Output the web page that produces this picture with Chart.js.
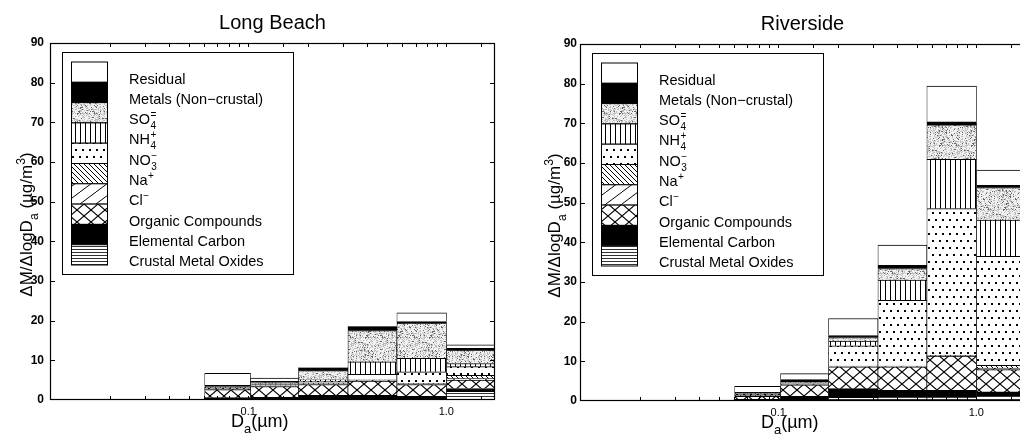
<!DOCTYPE html>
<html>
<head>
<meta charset="utf-8">
<script src="https://cdn.jsdelivr.net/npm/chart.js@4.4.1/dist/chart.umd.min.js"></script>
<style>
  html, body { margin: 0; padding: 0; background: #fff; overflow: hidden; }
  #wrap { position: relative; width: 1020px; height: 434px; overflow: hidden; }
  #lb { position: absolute; left: 0; top: 0; }
  #rv { position: absolute; left: 510px; top: 0; }
</style>
</head>
<body>
<div id="wrap">
  <canvas id="lb" width="510" height="434"></canvas>
  <canvas id="rv" width="530" height="434"></canvas>
</div>
<script>
// impactor stage edges, aerodynamic diameter in µm
const binEdges = [0.062, 0.1, 0.18, 0.32, 0.56, 1.0, 1.8];

// species, stacked bottom to top
const speciesNames = ['Crustal Metal Oxides', 'Elemental Carbon', 'Organic Compounds', 'Cl', 'Na',
                      'NO', 'NH', 'SO', 'Metals (Non\u2212crustal)', 'Residual'];
const speciesSub = ['', '', '', '', '', '3', '4', '4', '', ''];
const speciesSup = ['', '', '', '\u2212', '+', '\u2212', '+', '=', '', ''];

// Long Beach, ΔM/ΔlogDa in µg/m³ per stage (smallest stage first)
const lbCrustal  = [0.1, 0.1, 0.1, 0.1, 0.1, 2.2];
const lbEC       = [0.5, 0.6, 1.1, 1.1, 0.8, 0.7];
const lbOrganic  = [2.0, 2.7, 2.7, 3.6, 3.0, 2.1];
const lbCl       = [0.1, 0.1, 0.2, 0.2, 0.2, 0.4];
const lbNa       = [0.1, 0.1, 0.2, 0.1, 0.1, 0.8];
const lbNO3      = [0.2, 0.3, 0.5, 1.4, 2.9, 2.2];
const lbNH4      = [0.1, 0.2, 0.3, 3.1, 3.4, 0.8];
const lbSO4      = [0.3, 0.4, 2.3, 7.9, 8.9, 3.4];
const lbMetals   = [0.3, 0.2, 0.6, 1.0, 0.4, 0.4];
const lbResidual = [3.0, 0.8, 0.2, 0.1, 2.2, 0.9];

// Riverside
const rvCrustal  = [0.1, 0.1, 0.9, 1.0, 1.0, 1.4];
const rvEC       = [0.3, 1.1, 2.2, 1.7, 1.7, 0.9];
const rvOrganic  = [0.8, 2.9, 5.5, 5.9, 8.6, 5.6];
const rvCl       = [0.1, 0.1, 0.1, 0.1, 0.1, 0.4];
const rvNa       = [0.1, 0.1, 0.1, 0.1, 0.1, 0.7];
const rvNO3      = [0.3, 0.2, 5.1, 16.6, 37.0, 27.5];
const rvNH4      = [0.1, 0.1, 1.2, 5.1, 12.4, 9.1];
const rvSO4      = [0.2, 0.2, 0.9, 2.9, 8.7, 8.2];
const rvMetals   = [0.2, 0.6, 0.5, 0.8, 0.8, 0.6];
const rvResidual = [1.5, 1.5, 4.3, 5.1, 9.0, 3.8];

const xRange = [0.01, 1.76];
const xTickValues = [0.1, 1.0];
const xTickText = ['0.1', '1.0'];
const yMax = 90, yStep = 10;

const FONT = "'Liberation Sans', Arial, Helvetica, sans-serif";

// bar centres sit at the geometric middle of each stage
const binCenters = binEdges.slice(0, -1).map((lo, i) => Math.sqrt(lo * binEdges[i + 1]));

// --- hatch fills ---
function tile(w, h, paint) {
  const c = document.createElement('canvas');
  c.width = w; c.height = h;
  const g = c.getContext('2d');
  g.fillStyle = '#fff';
  g.fillRect(0, 0, w, h);
  g.fillStyle = '#000';
  g.strokeStyle = '#000';
  paint(g, w, h);
  return g.createPattern(c, 'repeat');
}
function diag(g, w, h, up) {
  g.beginPath();
  for (const o of [-w, 0, w]) {
    if (up) { g.moveTo(o, h); g.lineTo(o + w, 0); }
    else { g.moveTo(o, 0); g.lineTo(o + w, h); }
  }
  g.stroke();
}
function speckle(g, w, h) {
  for (let y = 0; y < h; y++) {
    for (let x = 0; x < w; x++) {
      let s = Math.imul(x, 374761393) + Math.imul(y, 668265263);
      s = Math.imul(s ^ (s >>> 13), 1274126177);
      const v = ((s ^ (s >>> 16)) & 255) / 255;
      g.fillStyle = v < 0.1 ? '#666' : v < 0.4 ? '#bdbdbd' : '#f0f0f0';
      g.fillRect(x, y, 1, 1);
    }
  }
}

const fills = [
  tile(4, 3, g => { g.fillStyle = '#333'; g.fillRect(0, 0, 4, 1); }),   // crustal
  '#000',                                                            // elemental carbon
  tile(14, 12, (g, w, h) => { g.lineWidth = 1.1; diag(g, w, h, true); diag(g, w, h, false); }), // organics
  tile(16, 12, (g, w, h) => { g.lineWidth = 1; diag(g, w, h, true); }),   // Cl-
  tile(5, 5, (g, w, h) => { g.lineWidth = 1; diag(g, w, h, false); }),    // Na+
  tile(14, 14, g => { g.fillRect(2, 2, 2, 2); g.fillRect(9, 2, 2, 2); g.fillRect(5, 9, 2, 2); g.fillRect(12, 9, 2, 2); }), // NO3-
  tile(5, 4, g => g.fillRect(0, 0, 1, 4)),                         // NH4+
  tile(32, 32, speckle),                                             // SO4=
  '#000',                                                            // metals
  '#fff'                                                             // residual
];

// text with optional sub/superscript pieces: [text, -1 sup | 0 | 1 sub]
function richWidth(ctx, parts, size) {
  let w = 0;
  for (const [t, k] of parts) {
    ctx.font = (k ? size * 0.72 : size) + 'px ' + FONT;
    w += ctx.measureText(t).width;
  }
  return w;
}
function richText(ctx, parts, x, y, size) {
  for (const [t, k] of parts) {
    ctx.font = (k ? size * 0.72 : size) + 'px ' + FONT;
    ctx.fillText(t, x, y + (k === 1 ? size * 0.33 : k === -1 ? -size * 0.42 : 0));
    x += ctx.measureText(t).width;
  }
}

const decor = {
  id: 'decor',
  afterDatasetsDraw(chart, args, o) {
    const { ctx, chartArea: a, scales: { x, y } } = chart;
    ctx.save();
    ctx.fillStyle = '#000';
    ctx.strokeStyle = '#000';
    ctx.textAlign = 'left';
    ctx.textBaseline = 'alphabetic';

    // axes box with inward ticks
    ctx.lineWidth = 1.2;
    ctx.strokeRect(a.left + 0.5, a.top + 0.5, a.right - a.left - 1, a.bottom - a.top - 1);
    ctx.lineWidth = 1;
    ctx.beginPath();
    y.ticks.forEach(t => {
      if (t.value <= y.min || t.value >= y.max) return;
      const py = Math.round(y.getPixelForValue(t.value)) + 0.5;
      ctx.moveTo(a.left, py); ctx.lineTo(a.left + 5, py);
      ctx.moveTo(a.right, py); ctx.lineTo(a.right - 5, py);
    });
    x.ticks.forEach(t => {
      if (t.value <= x.min * 1.01 || t.value >= x.max * 0.99) return;
      const px = Math.round(x.getPixelForValue(t.value)) + 0.5;
      ctx.moveTo(px, a.bottom); ctx.lineTo(px, a.bottom - 4);
      ctx.moveTo(px, a.top); ctx.lineTo(px, a.top + 4);
    });
    ctx.stroke();

    // title
    ctx.font = '20px ' + FONT;
    ctx.textAlign = 'center';
    ctx.fillText(o.title, (a.left + a.right) / 2, a.top - 14);
    ctx.textAlign = 'left';

    // y axis title
    const yParts = [['\u0394M/\u0394logD', 0], ['a', 1], [' (\u00b5g/m', 0], ['3', -1], [')', 0]];
    ctx.save();
    ctx.translate(a.left - o.yTitleGap, (a.top + a.bottom) / 2 + 3);
    ctx.rotate(-Math.PI / 2);
    richText(ctx, yParts, -richWidth(ctx, yParts, 17) / 2, 0, 17);
    ctx.restore();

    // x axis title
    richText(ctx, [['D', 0], ['a', 1], ['(\u00b5m)', 0]], a.left + 181, a.bottom + 27, 18);

    // legend: a stacked swatch column, top species first
    const bx = a.left + 12.5, by = a.top + 9.5;
    ctx.fillStyle = '#fff';
    ctx.fillRect(bx, by, 231, 222);
    ctx.lineWidth = 1;
    ctx.strokeRect(bx, by, 231, 222);
    const ds = chart.data.datasets;
    const sh = 20.3;
    for (let k = 0; k < ds.length; k++) {
      const i = ds.length - 1 - k;
      const sy = a.top + 19 + k * sh;
      ctx.fillStyle = ds[i].backgroundColor;
      ctx.fillRect(a.left + 21, sy, 36, sh);
      ctx.strokeRect(a.left + 21.5, sy, 36, sh);
      ctx.fillStyle = '#000';
      const lx = a.left + 79, base = sy + 21.5;
      ctx.font = '14.5px ' + FONT;
      ctx.fillText(speciesNames[i], lx, base);
      const w = ctx.measureText(speciesNames[i]).width + 0.5;
      ctx.font = '10px ' + FONT;
      if (speciesSup[i]) ctx.fillText(speciesSup[i], lx + w, base - 6);
      if (speciesSub[i]) ctx.fillText(speciesSub[i], lx + w, base + 5);
    }
    ctx.restore();
  }
};

function panel(id, title, series, geo) {
  return new Chart(document.getElementById(id), {
    type: 'bar',
    data: {
      labels: binCenters,
      datasets: series.map((vals, i) => ({
        label: speciesNames[i] + speciesSub[i] + speciesSup[i],
        data: vals,
        backgroundColor: fills[i],
        borderColor: '#000',
        borderWidth: { top: 1, bottom: 0, left: 0.7, right: 0.7 },
        borderSkipped: false,
        stack: 'mass',
        barThickness: 'flex',
        barPercentage: 1,
        categoryPercentage: 1
      }))
    },
    options: {
      responsive: false,
      animation: false,
      events: [],
      layout: { padding: { top: geo.top, right: 15, left: 0, bottom: 0 } },
      plugins: {
        legend: { display: false },
        tooltip: { enabled: false },
        decor: { title, yTitleGap: geo.yTitleGap }
      },
      scales: {
        x: {
          type: 'logarithmic',
          min: xRange[0],
          max: xRange[1],
          offset: false,
          grid: { display: false, drawTicks: false, offset: false },
          border: { display: false },
          ticks: {
            autoSkip: false,
            maxRotation: 0,
            padding: 5,
            color: '#000',
            font: { family: FONT, size: 11 },
            callback: v => {
              const j = xTickValues.findIndex(t => Math.abs(t - v) < 1e-9);
              return j < 0 ? '' : xTickText[j];
            }
          },
          afterFit: s => { s.height = geo.xh; }
        },
        y: {
          stacked: true,
          min: 0,
          max: yMax,
          grid: { display: false, drawTicks: false },
          border: { display: false },
          ticks: {
            stepSize: yStep,
            padding: geo.yPad,
            color: '#000',
            font: { family: FONT, size: 12, weight: 'bold' }
          },
          afterFit: s => { s.width = geo.yw; }
        }
      }
    },
    plugins: [decor]
  });
}

panel('lb', 'Long Beach',
  [lbCrustal, lbEC, lbOrganic, lbCl, lbNa, lbNO3, lbNH4, lbSO4, lbMetals, lbResidual],
  { top: 43, xh: 34, yw: 50, yPad: 6, yTitleGap: 18 });
panel('rv', 'Riverside',
  [rvCrustal, rvEC, rvOrganic, rvCl, rvNa, rvNO3, rvNH4, rvSO4, rvMetals, rvResidual],
  { top: 44, xh: 33, yw: 70, yPad: 3, yTitleGap: 20 });
</script>
</body>
</html>
